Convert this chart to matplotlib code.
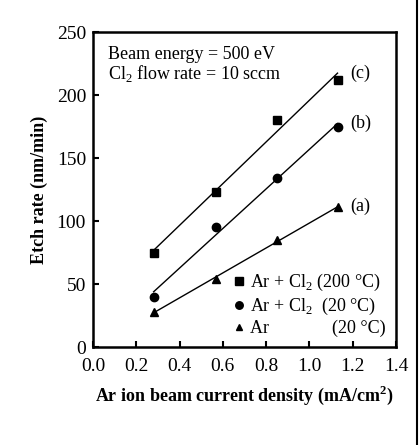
import numpy as np
import matplotlib.pyplot as plt

plt.rcParams['font.family'] = ['Liberation Serif', 'DejaVu Serif']
plt.rcParams['mathtext.fontset'] = 'custom'
plt.rcParams['mathtext.rm'] = 'Liberation Serif'
plt.rcParams['mathtext.bf'] = 'Liberation Serif:bold'

# current density (mA/cm2)
current = [0.28, 0.57, 0.85, 1.13]
# etch rates (nm/min)
rate_c = [75, 123, 180, 212]   # Ar + Cl2, 200 C
rate_b = [40, 95, 134, 175]    # Ar + Cl2, 20 C
rate_a = [28, 54, 85, 111]     # Ar, 20 C

series = [
    (rate_c, 's', 'Ar + Cl$_2$ (200 °C)', '(c)'),
    (rate_b, 'o', 'Ar + Cl$_2$  (20 °C)', '(b)'),
    (rate_a, '^', 'Ar              (20 °C)', '(a)'),
]

fig = plt.figure(figsize=(4.19, 4.45), dpi=100)
ax = fig.add_axes([0.222, 0.22, 0.723, 0.708])

x = np.array(current)
for rates, mk, lab, tag in series:
    y = np.array(rates)
    k, b = np.polyfit(x, y, 1)
    ax.plot(x, k * x + b, color='black', lw=1.0)
    ax.plot(x, y, mk, color='black', ms=6 if mk != '^' else 5.5, ls='none', label=lab)
    ax.text(x[-1] + 0.06, k * x[-1] + b, tag, fontsize=13, va='center')

ax.set_xlim(0, 1.4)
ax.set_ylim(0, 250)
ax.set_xticks(np.arange(0, 1.41, 0.2))
ax.set_xticklabels(['%.1f' % v for v in np.arange(0, 1.41, 0.2)])
ax.set_yticks(range(0, 251, 50))
ax.tick_params(direction='in', length=4, width=1.5, labelsize=14, top=False, right=False)
ax.tick_params(axis='x', pad=8)
ax.tick_params(axis='y', pad=5)
for s in ax.spines.values():
    s.set_linewidth(1.8)

ax.set_xlabel('Ar ion beam current density (mA/cm$^\\mathbf{2}$)', fontsize=13, fontweight='bold', labelpad=6)
ax.set_ylabel('Etch rate (nm/min)', fontsize=13, fontweight='bold', labelpad=6)

ax.text(0.05, 0.955, 'Beam energy = 500 eV\nCl$_2$ flow rate = 10 sccm', transform=ax.transAxes,
        fontsize=13, va='top', linespacing=1.0)

ax.legend(loc='lower right', frameon=False, fontsize=13, handlelength=0.6,
          handletextpad=0.35, labelspacing=0.15, borderaxespad=0.15, markerscale=0.9)

fig.add_artist(plt.Line2D([0.996, 0.996], [0, 1], color='black', lw=1.5))

fig.savefig('out.png', dpi=100)
